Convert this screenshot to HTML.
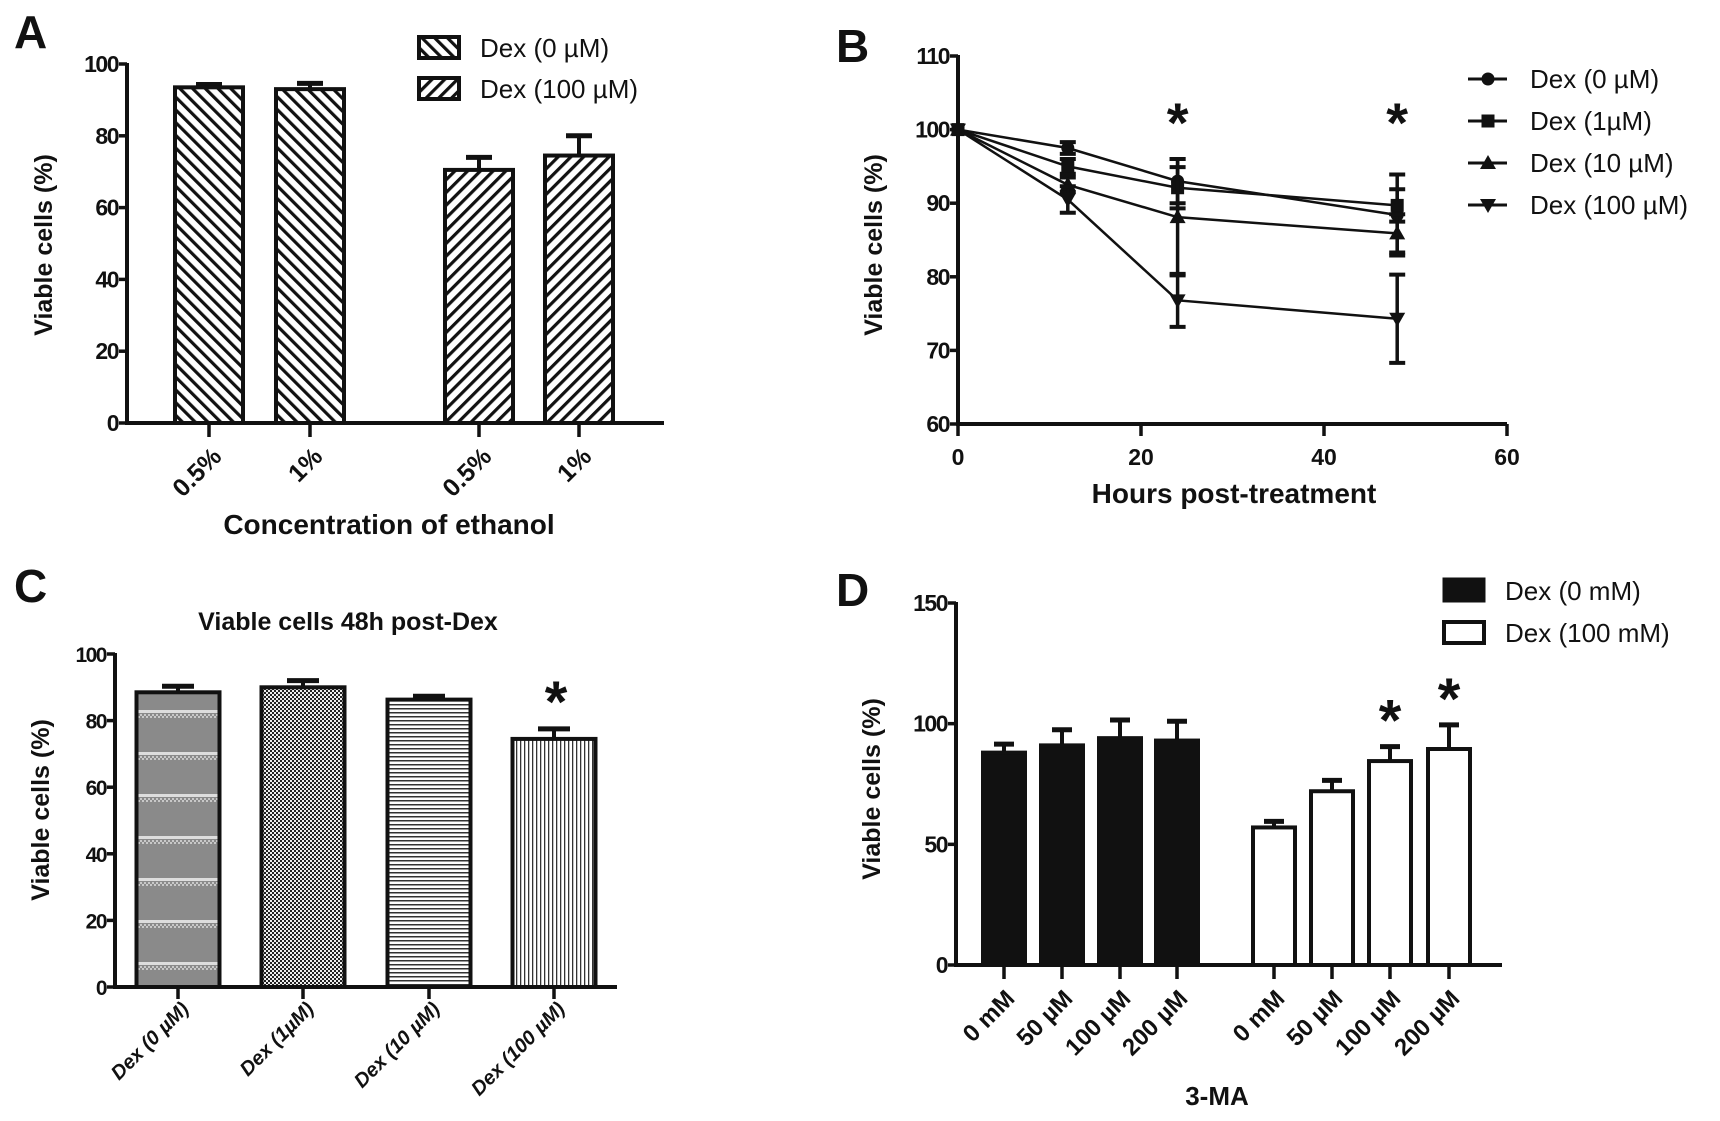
<!DOCTYPE html>
<html><head><meta charset="utf-8"><style>
html,body{margin:0;padding:0;background:#fff;}
svg{display:block;}
text{font-family:"Liberation Sans Narrow","Liberation Sans",sans-serif;fill:#111;}
.b{font-weight:bold;}
.yt{font-family:"Liberation Sans",sans-serif;font-weight:bold;font-size:25px;}
.pl{font-family:"Liberation Sans",sans-serif;font-weight:bold;font-size:46px;}
</style></head><body>
<svg id="fig" width="1720" height="1121" viewBox="0 0 1720 1121" xmlns="http://www.w3.org/2000/svg">
<defs>
<pattern id="pBack" width="9" height="9" patternUnits="userSpaceOnUse" patternTransform="rotate(-45)"><rect width="9" height="9" fill="#fff"/><rect width="3.2" height="9" fill="#111"/></pattern>
<pattern id="pFwd" width="9" height="9" patternUnits="userSpaceOnUse" patternTransform="rotate(45)"><rect width="9" height="9" fill="#fff"/><rect width="3.2" height="9" fill="#111"/></pattern>
<pattern id="pGray" width="4" height="42" patternUnits="userSpaceOnUse"><rect width="4" height="42" fill="#8a8a8a"/><rect width="2" height="2" fill="#c8c8c8"/><rect x="2" y="2" width="2" height="2" fill="#c8c8c8"/><rect y="38" width="4" height="3" fill="#ddd"/></pattern>
<pattern id="pCheck" width="4" height="4" patternUnits="userSpaceOnUse"><rect width="4" height="4" fill="#eee"/><rect width="2" height="2" fill="#222"/><rect x="2" y="2" width="2" height="2" fill="#222"/></pattern>
<pattern id="pHor" width="4" height="4" patternUnits="userSpaceOnUse"><rect width="4" height="4" fill="#fff"/><rect width="4" height="1.5" fill="#333"/></pattern>
<pattern id="pVer" width="4" height="4" patternUnits="userSpaceOnUse"><rect width="4" height="4" fill="#fff"/><rect width="1.3" height="4" fill="#333"/></pattern>
</defs>
</svg>
<script>
// ---------- Panel A data ----------
const aCats = ["0.5%", "1%", "0.5%", "1%"];
const aVals = [93.5, 93, 70.5, 74.5];
const aErrs = [0.8, 1.6, 3.5, 5.5];
const aTicks = [0, 20, 40, 60, 80, 100];
// ---------- Panel B data ----------
const bHours = [0, 12, 24, 48];
const bDex0 = [100, 97.5, 93, 88.4];
const bDex1 = [100, 95, 92.1, 89.7];
const bDex10 = [100, 92.5, 88.1, 85.9];
const bDex100 = [100, 90.5, 76.8, 74.3];
const bErr0 = [0, 0.8, 3, 5.5];
const bErr1 = [0, 1, 2.8, 2.2];
const bErr10 = [0, 1, 7.9, 2.6];
const bErr100 = [0, 1.8, 3.6, 6];
const bSeriesNames = ["Dex (0 µM)", "Dex (1µM)", "Dex (10 µM)", "Dex (100 µM)"];
const bYTicks = [60, 70, 80, 90, 100, 110];
const bXTicks = [0, 20, 40, 60];
const bStars = [24, 48];
// ---------- Panel C data ----------
const cCats = ["Dex (0 µM)", "Dex (1µM)", "Dex (10 µM)", "Dex (100 µM)"];
const cVals = [88.5, 90, 86.3, 74.5];
const cErrs = [1.8, 2, 1, 3];
const cTicks = [0, 20, 40, 60, 80, 100];
// ---------- Panel D data ----------
const dCats = ["0 mM", "50 µM", "100 µM", "200 µM", "0 mM", "50 µM", "100 µM", "200 µM"];
const dVals = [88, 91, 94, 93, 57, 72, 84.5, 89.5];
const dErrs = [3.5, 6.5, 7.5, 8, 2.5, 4.5, 6, 10];
const dStars = [false, false, false, false, false, false, true, true];
const dTicks = [0, 50, 100, 150];

const svg = document.getElementById('fig');
const NS = 'http://www.w3.org/2000/svg';
function mk(tag, attrs, name, parent) {
  const el = document.createElementNS(NS, tag);
  for (const k in attrs) el.setAttribute(k, attrs[k]);
  
  
  (parent || svg).appendChild(el);
  return el;
}
function txt(x, y, s, cls, size, name, extra) {
  const a = Object.assign({x: x, y: y, 'font-size': size}, extra || {});
  if (cls) a['class'] = cls;
  const t = mk('text', a, name);
  t.textContent = s;
  return t;
}
function line(x1, y1, x2, y2, w, name) {
  return mk('line', {x1: x1, y1: y1, x2: x2, y2: y2, stroke: '#111', 'stroke-width': w}, name);
}
function lin(d0, d1, r0, r1) { return v => r0 + (v - d0) / (d1 - d0) * (r1 - r0); }
function yAxis(x, y, ticks, x2, name, size) {
  line(x, y(ticks[ticks.length - 1]) - 1, x, y(ticks[0]) + 2, 4, name + '-line');
  ticks.forEach(t => {
    line(x - 8, y(t), x, y(t), 3.5, name + '-tick');
    txt(x - 9, y(t) + 8, String(t), 'b', size, name + '-tick-label', {'text-anchor': 'end', 'letter-spacing': '-1.5'});
  });
}
function errBar(cx, yTop, yErr, half, name) {
  line(cx, yTop, cx, yErr, 4, name);
  line(cx - half, yErr, cx + half, yErr, 5, name + '-cap');
}
function star(x, y, size, name) {
  txt(x, y, '*', 'b', size, name, {'text-anchor': 'middle', 'font-family': 'Liberation Sans, sans-serif'});
}
function rotLabel(x, y, s, size, name, italic) {
  const ex = {'text-anchor': 'end', transform: 'rotate(-45 ' + x + ' ' + y + ')'};
  if (italic) ex['font-style'] = 'italic';
  txt(x, y, s, 'b', size, name, ex);
}

// ================= Panel A =================
txt(14, 48, 'A', 'pl', 46, 'panel-label-a');
{
  const X0 = 127, X1 = 664;
  const y = lin(0, 100, 423, 64);
  const centers = [209, 310, 479, 579];
  const bw = 68;
  yAxis(X0, y, aTicks, X1, 'a-y-axis', 23);
  aVals.forEach((v, i) => {
    const cx = centers[i];
    errBar(cx, y(v), y(v + aErrs[i]), 13, 'a-error-bar');
    mk('rect', {x: cx - bw / 2, y: y(v), width: bw, height: y(0) - y(v), fill: i < 2 ? 'url(#pBack)' : 'url(#pFwd)', stroke: '#111', 'stroke-width': 4}, 'a-bar');
    line(cx, y(0), cx, y(0) + 14, 3.5, 'a-x-tick');
    rotLabel(cx + 14, 458, aCats[i], 25, 'a-x-tick-label', false);
  });
  line(X0 - 2, y(0), X1, y(0), 4, 'a-x-axis');
  txt(44, 245, 'Viable cells (%)', 'yt', 25, 'a-y-axis-title', {'text-anchor': 'middle', transform: 'rotate(-90 44 245)', dy: '8'});
  txt(389, 534, 'Concentration of ethanol', 'b', 28, 'a-x-axis-title', {'text-anchor': 'middle'});
  mk('rect', {x: 419, y: 37, width: 40, height: 21, fill: 'url(#pBack)', stroke: '#111', 'stroke-width': 4}, 'a-legend-swatch-dex0');
  txt(480, 57, 'Dex (0 µM)', '', 26, 'a-legend-label-dex0');
  mk('rect', {x: 419, y: 78, width: 40, height: 21, fill: 'url(#pFwd)', stroke: '#111', 'stroke-width': 4}, 'a-legend-swatch-dex100');
  txt(480, 98, 'Dex (100 µM)', '', 26, 'a-legend-label-dex100');
}

// ================= Panel B =================
txt(836, 62, 'B', 'pl', 46, 'panel-label-b');
{
  const X0 = 958;
  const x = lin(0, 60, 958, 1507);
  const y = lin(60, 110, 424, 56);
  yAxis(X0, y, bYTicks, 0, 'b-y-axis', 23);
  line(X0 - 2, y(60), 1507, y(60), 4, 'b-x-axis');
  bXTicks.forEach(t => {
    line(x(t), y(60), x(t), y(60) + 12, 3.5, 'b-x-tick');
    txt(x(t), 465, String(t), 'b', 23, 'b-x-tick-label', {'text-anchor': 'middle'});
  });
  txt(874, 245, 'Viable cells (%)', 'yt', 25, 'b-y-axis-title', {'text-anchor': 'middle', transform: 'rotate(-90 874 245)', dy: '8'});
  txt(1234, 503, 'Hours post-treatment', 'b', 28, 'b-x-axis-title', {'text-anchor': 'middle'});
  const series = [bDex0, bDex1, bDex10, bDex100];
  const errs = [bErr0, bErr1, bErr10, bErr100];
  const shapes = ['circle', 'square', 'tri', 'itri'];
  function marker(cx, cy, shape, name) {
    if (shape === 'circle') return mk('circle', {cx: cx, cy: cy, r: 6.5, fill: '#111'}, name);
    if (shape === 'square') return mk('rect', {x: cx - 6.5, y: cy - 6.5, width: 13, height: 13, fill: '#111'}, name);
    if (shape === 'tri') return mk('polygon', {points: (cx) + ',' + (cy - 8) + ' ' + (cx - 8) + ',' + (cy + 6) + ' ' + (cx + 8) + ',' + (cy + 6), fill: '#111'}, name);
    return mk('polygon', {points: (cx) + ',' + (cy + 8) + ' ' + (cx - 8) + ',' + (cy - 6) + ' ' + (cx + 8) + ',' + (cy - 6), fill: '#111'}, name);
  }
  series.forEach((s, si) => {
    const pts = s.map((v, i) => x(bHours[i]) + ',' + y(v)).join(' ');
    mk('polyline', {points: pts, fill: 'none', stroke: '#111', 'stroke-width': 2.5}, 'b-series-line-' + si);
    s.forEach((v, i) => {
      if (errs[si][i] > 0) {
        line(x(bHours[i]), y(v - errs[si][i]), x(bHours[i]), y(v + errs[si][i]), 3.5, 'b-error-bar');
        line(x(bHours[i]) - 8, y(v + errs[si][i]), x(bHours[i]) + 8, y(v + errs[si][i]), 4, 'b-error-cap');
        line(x(bHours[i]) - 8, y(v - errs[si][i]), x(bHours[i]) + 8, y(v - errs[si][i]), 4, 'b-error-cap');
      }
      marker(x(bHours[i]), y(v), shapes[si], 'b-point');
    });
  });
  bStars.forEach(h => star(x(h), y(101.6) + 24, 56, 'b-significance-star'));
  const ly = [79, 121, 163, 205];
  bSeriesNames.forEach((n, i) => {
    line(1468, ly[i], 1507, ly[i], 3, 'b-legend-line');
    marker(1488, ly[i], shapes[i], 'b-legend-marker');
    txt(1530, ly[i] + 9, n, '', 26, 'b-legend-label');
  });
}

// ================= Panel C =================
txt(14, 602, 'C', 'pl', 46, 'panel-label-c');
{
  const X0 = 115, X1 = 617;
  const y = lin(0, 100, 987, 654);
  const centers = [178, 303, 429, 554];
  const bw = 83;
  const fills = ['url(#pGray)', 'url(#pCheck)', 'url(#pHor)', 'url(#pVer)'];
  yAxis(X0, y, cTicks, X1, 'c-y-axis', 21);
  cVals.forEach((v, i) => {
    const cx = centers[i];
    errBar(cx, y(v), y(v + cErrs[i]), 16, 'c-error-bar');
    mk('rect', {x: cx - bw / 2, y: y(v), width: bw, height: y(0) - y(v), fill: fills[i], stroke: '#111', 'stroke-width': 4}, 'c-bar');
    line(cx, y(0), cx, y(0) + 12, 3.5, 'c-x-tick');
    rotLabel(cx + 12, 1010, cCats[i], 20, 'c-x-tick-label', true);
  });
  star(centers[3] + 2, 722, 58, 'c-significance-star');
  line(X0 - 2, y(0), X1, y(0), 4, 'c-x-axis');
  txt(41, 810, 'Viable cells (%)', 'yt', 25, 'c-y-axis-title', {'text-anchor': 'middle', transform: 'rotate(-90 41 810)', dy: '8'});
  txt(348, 630, 'Viable cells 48h post-Dex', 'b', 25, 'c-chart-title', {'text-anchor': 'middle'});
}

// ================= Panel D =================
txt(836, 606, 'D', 'pl', 46, 'panel-label-d');
{
  const X0 = 956, X1 = 1502;
  const y = lin(0, 150, 965, 603);
  const centers = [1004, 1062, 1120, 1177, 1274, 1332, 1390, 1449];
  const bw = 42;
  yAxis(X0, y, dTicks, X1, 'd-y-axis', 23);
  dVals.forEach((v, i) => {
    const cx = centers[i];
    errBar(cx, y(v), y(v + dErrs[i]), 10, 'd-error-bar');
    mk('rect', {x: cx - bw / 2, y: y(v), width: bw, height: y(0) - y(v), fill: i < 4 ? '#111' : '#fff', stroke: '#111', 'stroke-width': 4}, 'd-bar');
    line(cx, y(0), cx, y(0) + 14, 3.5, 'd-x-tick');
    rotLabel(cx + 12, 1000, dCats[i], 24, 'd-x-tick-label', false);
    if (dStars[i]) star(cx, y(v + dErrs[i]) - 6, 58, 'd-significance-star');
  });
  line(X0 - 2, y(0), X1, y(0), 4, 'd-x-axis');
  txt(872, 789, 'Viable cells (%)', 'yt', 25, 'd-y-axis-title', {'text-anchor': 'middle', transform: 'rotate(-90 872 789)', dy: '8'});
  txt(1217, 1105, '3-MA', 'b', 26, 'd-x-axis-title', {'text-anchor': 'middle'});
  mk('rect', {x: 1444, y: 579, width: 40, height: 22, fill: '#111', stroke: '#111', 'stroke-width': 3}, 'd-legend-swatch-dex0');
  txt(1505, 600, 'Dex (0 mM)', '', 26, 'd-legend-label-dex0');
  mk('rect', {x: 1444, y: 622, width: 40, height: 21, fill: '#fff', stroke: '#111', 'stroke-width': 4}, 'd-legend-swatch-dex100');
  txt(1505, 642, 'Dex (100 mM)', '', 26, 'd-legend-label-dex100');
}
</script>
</body></html>
